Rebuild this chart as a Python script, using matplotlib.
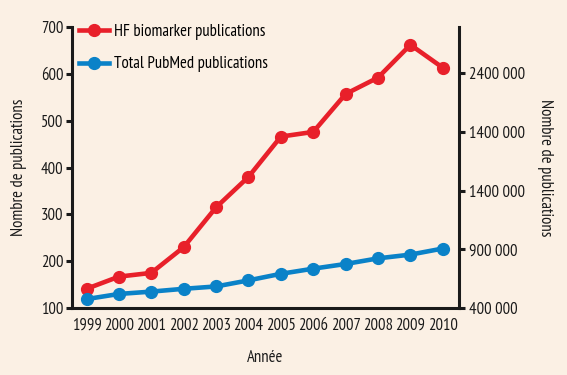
import matplotlib
matplotlib.use("Agg")
import matplotlib.pyplot as plt
from matplotlib.ticker import FixedLocator, FixedFormatter
from matplotlib import font_manager

years = [1999, 2000, 2001, 2002, 2003, 2004, 2005, 2006, 2007, 2008, 2009, 2010]
hf_biomarker = [141, 167, 175, 230, 315, 380, 466, 476, 557, 592, 662, 613]
total_pubmed = [119, 130, 135, 141, 146, 159, 173, 184, 194, 206, 214, 227]
left_ticks = [100, 200, 300, 400, 500, 600, 700]
right_ticks = [400000, 900000, 1400000, 1900000, 2400000]
right_labels = ["400 000", "900 000", "1400 000", "1400 000", "2400 000"]

names = {f.name for f in font_manager.fontManager.ttflist}
fam = "DejaVu Sans"
for cand in ["PT Sans Narrow", "Roboto Condensed", "Archivo Narrow", "Asap Condensed",
             "Barlow Semi Condensed", "Liberation Sans Narrow"]:
    if cand in names:
        fam = cand
        break
plt.rcParams['font.family'] = [fam, 'DejaVu Sans']

bg = "#FBF0E4"
red = "#E8202A"
blue = "#0A82C8"
ink = "#1a1a1a"
fs = 12

fig = plt.figure(figsize=(5.67, 3.75), dpi=100, facecolor=bg)
ax = fig.add_axes([72/567, 1-308/375, (459-72)/567, (308-27)/375])
ax.set_facecolor(bg)

ax.plot(years, hf_biomarker, color=red, lw=3.3, marker='o', ms=8.5, label="HF biomarker publications")
ax.plot(years, total_pubmed, color=blue, lw=3.3, marker='o', ms=8.5, label="Total PubMed publications")

ax.set_xlim(1998.55, 2010.5)
ax.set_ylim(100, 700)
ax.set_xticks(years)
ax.set_xticklabels([str(y) for y in years])
ax.yaxis.set_major_locator(FixedLocator(left_ticks))
for s in ['top', 'right']:
    ax.spines[s].set_visible(False)
for s in ['left', 'bottom']:
    ax.spines[s].set_linewidth(2.2)
    ax.spines[s].set_color(ink)
ax.tick_params(axis='y', length=4, width=2.2, labelsize=fs, pad=2, colors=ink)
ax.tick_params(axis='x', length=0, labelsize=fs, pad=7, colors=ink)
ax.set_ylabel("Nombre de publications", fontsize=fs, labelpad=10, color=ink)
ax.set_xlabel("Année", fontsize=fs, labelpad=12, color=ink)

ax2 = ax.twinx()
ax2.set_ylim(400000, 400000 + 500000 * (280/58.5))
ax2.yaxis.set_major_locator(FixedLocator(right_ticks))
ax2.yaxis.set_major_formatter(FixedFormatter(right_labels))
for s in ['top', 'left', 'bottom']:
    ax2.spines[s].set_visible(False)
ax2.spines['right'].set_linewidth(2.2)
ax2.spines['right'].set_color(ink)
ax2.tick_params(axis='y', length=4, width=2.2, labelsize=fs, pad=3, colors=ink)
ax2.set_ylabel("Nombre de publications", fontsize=fs, rotation=270, labelpad=20, color=ink)

leg = ax.legend(loc='upper left', frameon=False, fontsize=fs, handlelength=1.8,
                borderaxespad=0.0, bbox_to_anchor=(0.0, 1.035), labelspacing=1.0,
                handletextpad=0.35)

fig.savefig("out.png", dpi=100, facecolor=bg)
